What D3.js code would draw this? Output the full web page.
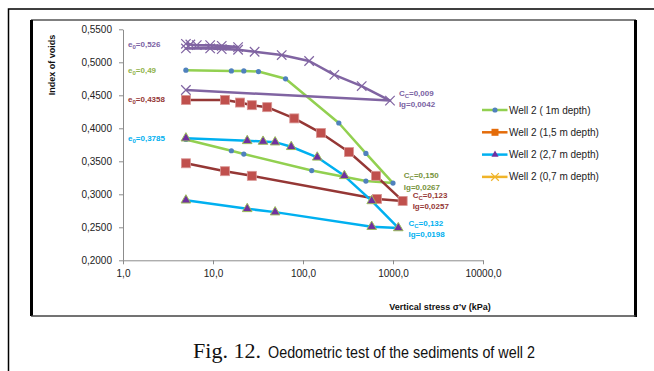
<!DOCTYPE html>
<html>
<head>
<meta charset="utf-8">
<script src="https://cdn.jsdelivr.net/npm/d3@7"></script>
<style>
  html, body { margin: 0; padding: 0; background: #fff; }
  svg { display: block; }
</style>
</head>
<body>
<svg id="chart" width="654" height="371"></svg>
<script>
// stress (kPa) / void index
const well1m = [[5,0.488],[16,0.487],[22,0.487],[32,0.486],[64,0.475],[250,0.408],[500,0.362],[1000,0.317],
  [500,0.320],[125,0.336],[22,0.361],[16,0.366],[5,0.383]]
const well15m = [[5,0.443],[13.6,0.443],[20,0.439],[27,0.435],[40,0.432],[80,0.415],[158,0.393],[324,0.364],[648,0.328],[1280,0.290],
  [665,0.293],[27,0.328],[13.6,0.335],[5,0.347]]
const well27m = [[5,0.385],[24,0.381],[36,0.380],[49,0.379],[74,0.372],[144,0.356],[288,0.328],[580,0.290],[1145,0.249],
  [580,0.251],[49,0.273],[24,0.278],[5,0.291]]
const well07m = [[5,0.528],[5.6,0.527],[6.6,0.526],[9.3,0.526],[12.5,0.525],[19,0.523],[5,0.521],
  [9.3,0.521],[12.5,0.520],[19,0.519],[29,0.516],[58,0.511],[117,0.502],[223,0.481],[449,0.464],[926,0.442],[5,0.458]]

const yTicks = [0.20,0.25,0.30,0.35,0.40,0.45,0.50,0.55]
const xTicks = [1,10,100,1000,10000]
const legendLabels = ['Well 2 ( 1m depth)','Well 2 (1,5 m depth)','Well 2 (2,7 m depth)','Well 2 (0,7 m depth)']

// annotations: [prefix, sub, value, y, colour]
const e0Notes = [
  ['e','0','=0,526',0.5275,'#7a62a3'],
  ['e','0','=0,49',0.4875,'#8fb34a'],
  ['e','0','=0,4358',0.4435,'#953735'],
  ['e','0','=0,3785',0.3845,'#00b0f0']
]
// [Cc value, Ig text, x, y, colour]
const ccNotes = [
  ['=0,009','Ig=0,0042',900,0.4435,'#7a62a3'],
  ['=0,150','Ig=0,0267',1020,0.318,'#77933c'],
  ['=0,123','Ig=0,0257',1280,0.2885,'#953735'],
  ['=0,132','Ig=0,0198',1150,0.2465,'#00b0f0']
]

const svg = d3.select('#chart')

// outer frame
svg.append('path').attr('d', 'M8.5,371 V9 H654').attr('fill', 'none').attr('stroke', '#000').attr('stroke-width', 1.5)
// chart box
svg.append('rect').attr('x', 31.5).attr('y', 20).attr('width', 604).attr('height', 296)
  .attr('fill', '#fff').attr('stroke', '#000').attr('stroke-width', 1)
svg.append('line').attr('x1', 31.5).attr('x2', 31.5).attr('y1', 20).attr('y2', 316).attr('stroke', '#000').attr('stroke-width', 3)
svg.append('line').attr('x1', 635.5).attr('x2', 635.5).attr('y1', 20).attr('y2', 317).attr('stroke', '#000').attr('stroke-width', 3)
svg.append('line').attr('x1', 31.5).attr('x2', 635.5).attr('y1', 316).attr('y2', 316).attr('stroke', '#666').attr('stroke-width', 1)

const x = d3.scaleLog().domain([1, 10000]).range([123, 483])
const y = d3.scaleLinear().domain([0.2, 0.55]).range([260.3, 29.3])

const comma = (f) => (v) => f(v).replace('.', ',')

const gY = svg.append('g').attr('transform', 'translate(123,0)')
  .call(d3.axisLeft(y).tickValues(yTicks).tickFormat(comma(d3.format('.4f'))).tickSize(4).tickPadding(7).tickSizeOuter(0))
const gX = svg.append('g').attr('transform', 'translate(0,260.3)')
  .call(d3.axisBottom(x).tickValues(xTicks).tickFormat(comma(d3.format('.1f'))).tickSize(4).tickPadding(6).tickSizeOuter(0))
for (const g of [gY, gX]) {
  g.select('.domain').attr('stroke', '#8c8c8c')
  g.selectAll('.tick line').attr('stroke', '#8c8c8c')
  g.selectAll('.tick text').attr('fill', '#222').attr('font-family', 'Liberation Sans, Arial, sans-serif').attr('font-size', 10)
}

svg.append('text').attr('transform', 'translate(55,65) rotate(-90)').attr('text-anchor', 'middle')
  .attr('font-family', 'Liberation Sans, Arial, sans-serif').attr('font-weight', 'bold').attr('font-size', 9).attr('fill', '#111')
  .text('Index of voids')
svg.append('text').attr('x', 440).attr('y', 310).attr('text-anchor', 'middle')
  .attr('font-family', 'Liberation Sans, Arial, sans-serif').attr('font-weight', 'bold').attr('font-size', 9).attr('fill', '#111')
  .text("Vertical stress σ'v (kPa)")

const line = d3.line().x(d => x(d[0])).y(d => y(d[1]))

const series = [
  { data: well1m, stroke: '#92d050', marker: 'circle' },
  { data: well15m, stroke: '#953735', marker: 'square' },
  { data: well27m, stroke: '#00b0f0', marker: 'triangle' },
  { data: well07m, stroke: '#8064a2', marker: 'cross' }
]

function drawMarker(g, kind, cx, cy, legend) {
  if (kind === 'circle') {
    g.append('circle').attr('cx', cx).attr('cy', cy).attr('r', 2.6).attr('fill', '#4f81bd')
  } else if (kind === 'square') {
    const s = legend ? 7 : 9
    g.append('rect').attr('x', cx - s / 2).attr('y', cy - s / 2).attr('width', s).attr('height', s)
      .attr('fill', legend ? '#e46c0a' : '#c0504d').attr('stroke', legend ? 'none' : '#d99694').attr('stroke-width', 0.8)
  } else if (kind === 'triangle') {
    g.append('path').attr('transform', `translate(${cx},${cy})`)
      .attr('d', d3.symbol(d3.symbolTriangle, legend ? 22 : 40)())
      .attr('fill', '#7030a0').attr('stroke', legend ? 'none' : '#9bbb59').attr('stroke-width', 1)
  } else {
    g.append('path').attr('transform', `translate(${cx},${cy})`)
      .attr('d', d3.symbol(d3.symbolX, legend ? 40 : 60)())
      .attr('fill', 'none').attr('stroke', legend ? '#f0b429' : '#8064a2').attr('stroke-width', 1.2)
  }
}

const gPlot = svg.append('g')
series.forEach(s => {
  gPlot.append('path').datum(s.data).attr('d', line).attr('fill', 'none')
    .attr('stroke', s.stroke).attr('stroke-width', 2.5).attr('stroke-linejoin', 'round')
})
series.forEach(s => {
  const gm = gPlot.append('g')
  s.data.forEach(d => drawMarker(gm, s.marker, x(d[0]), y(d[1]), false))
})

// legend
const legendColors = ['#92d050', '#e46c0a', '#00b0f0', '#f0b429']
const legend = svg.append('g')
legendLabels.forEach((lab, i) => {
  const ly = 110 + i * 22.3
  legend.append('line').attr('x1', 482).attr('x2', 507.5).attr('y1', ly).attr('y2', ly)
    .attr('stroke', legendColors[i]).attr('stroke-width', 2.5)
  drawMarker(legend, series[i].marker, 495, ly, true)
  legend.append('text').attr('x', 509).attr('y', ly).attr('dy', '0.35em')
    .attr('font-family', 'Liberation Sans, Arial, sans-serif').attr('font-size', 10).attr('fill', '#222').text(lab)
})

// annotations
const noteFont = 'Liberation Sans Narrow, Arial Narrow, Liberation Sans, sans-serif'
const notes = svg.append('g').attr('font-family', noteFont).attr('font-weight', 'bold').attr('font-size', 8)
e0Notes.forEach(n => {
  const t = notes.append('text').attr('x', 128).attr('y', y(n[3])).attr('dy', '0.35em').attr('fill', n[4])
  t.append('tspan').text(n[0])
  t.append('tspan').attr('font-size', 6).attr('dy', '2').text(n[1])
  t.append('tspan').attr('dy', '-2').text(n[2])
})
ccNotes.forEach(n => {
  const nx = x(n[2]) + 10, ny = y(n[3])
  const t = notes.append('text').attr('x', nx).attr('y', ny - 4).attr('fill', n[4])
  t.append('tspan').text('C')
  t.append('tspan').attr('font-size', 6).attr('dy', '2').text('C')
  t.append('tspan').attr('dy', '-2').text(n[0])
  notes.append('text').attr('x', nx).attr('y', ny + 7.5).attr('fill', n[4]).text(n[1])
})

// caption
svg.append('text').attr('x', 193).attr('y', 358).attr('fill', '#111')
  .attr('font-family', 'Liberation Serif, Times New Roman, serif').attr('font-size', 20)
  .attr('textLength', 68).attr('lengthAdjust', 'spacingAndGlyphs').text('Fig. 12.')
svg.append('text').attr('x', 268).attr('y', 358).attr('fill', '#111')
  .attr('font-family', 'Liberation Sans, Arial, sans-serif').attr('font-size', 16.5)
  .attr('textLength', 267).attr('lengthAdjust', 'spacingAndGlyphs')
  .text('Oedometric test of the sediments of well 2')
</script>
</body>
</html>
